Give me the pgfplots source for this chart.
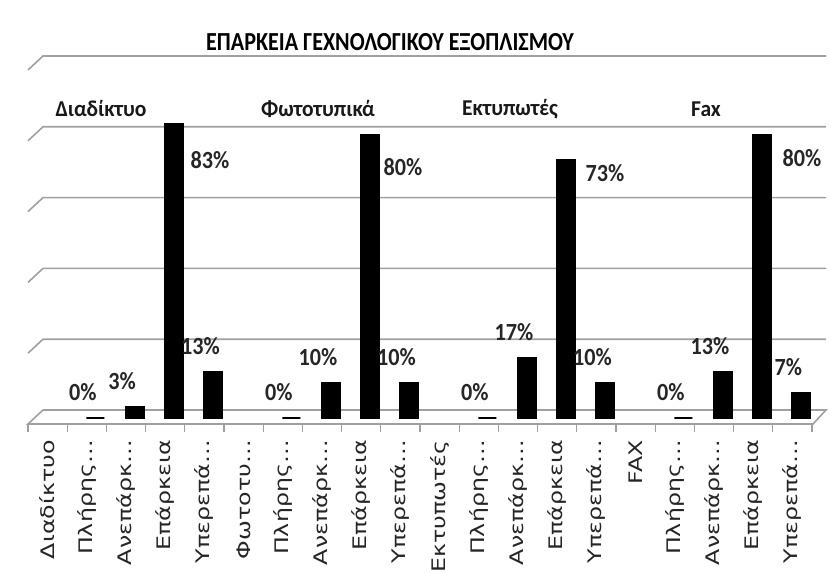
\documentclass[border=0pt]{standalone}
\usepackage{pgfplots}
\pgfplotsset{compat=1.18}
\usepackage{fontspec}
\setmainfont{Carlito}
\newfontfamily\ttlfont[FakeStretch=0.85]{Carlito}
\newfontfamily\hdfont[FakeStretch=0.95]{Carlito}
\newfontfamily\lblfont[FakeStretch=0.9]{Carlito}
\newfontfamily\tickfont[FakeStretch=1.27]{DejaVu Sans}
\definecolor{gridgray}{HTML}{A0A0A0}
\tikzset{lbl/.style={font=\lblfont\bfseries\fontsize{18.5}{21}\selectfont, text=black!85},
         hdr/.style={font=\hdfont\bfseries\fontsize{17}{19}\selectfont, text=black!90},
         grd/.style={gridgray, line width=1.2pt}}
\begin{document}
\begin{tikzpicture}
\begin{scope}[x=0.75pt,y=0.75pt]
\path[use as bounding box] (-28,-141) rectangle (803,424);
\node[font=\ttlfont\bfseries\fontsize{19.5}{22}\selectfont, inner sep=0pt] at (362,382) {ΕΠΑΡΚΕΙΑ ΓΕΧΝΟΛΟΓΙΚΟΥ ΕΞΟΠΛΙΣΜΟΥ};
\end{scope}
\begin{axis}[
  at={(0pt,0pt)}, anchor=south west, scale only axis,
  width=588pt, height=280.5pt,
  xmin=-0.5, xmax=19.5, ymin=-1.695, ymax=103.95,
  clip=false,
  axis line style={draw=none},
  ytick=\empty,
  xtick={0,...,19},
  xticklabels={Διαδίκτυο, Πλήρης…, Ανεπάρκ…, Επάρκεια, Υπερεπά…, Φωτοτυ…, Πλήρης…, Ανεπάρκ…, Επάρκεια, Υπερεπά…, Εκτυπωτές, Πλήρης…, Ανεπάρκ…, Επάρκεια, Υπερεπά…, FAX, Πλήρης…, Ανεπάρκ…, Επάρκεια, Υπερεπά…},
  minor xtick={-0.5,0.5,1.5,2.5,3.5,4.5,5.5,6.5,7.5,8.5,9.5,10.5,11.5,12.5,13.5,14.5,15.5,16.5,17.5,18.5,19.5},
  major tick length=0pt, minor tick length=6pt,
  tick align=outside, xtick pos=left,
  tick style={gridgray, line width=1pt},
  xticklabel style={font=\tickfont\fontsize{14}{15}\selectfont, rotate=90, anchor=east, inner sep=0pt, text=black!85},
  xticklabel shift=12pt,
]
\draw[grd] (axis cs:-0.5,-1.69) -- (axis cs:19.525,-1.69) -- (axis cs:19.857,2.26) -- (axis cs:-0.117,2.26) -- cycle;
\draw[grd] (axis cs:-0.5,18.31) -- (axis cs:-0.117,22.26) -- (axis cs:19.857,22.26);
\draw[grd] (axis cs:-0.5,38.31) -- (axis cs:-0.117,42.26) -- (axis cs:19.857,42.26);
\draw[grd] (axis cs:-0.5,58.31) -- (axis cs:-0.117,62.26) -- (axis cs:19.857,62.26);
\draw[grd] (axis cs:-0.5,78.31) -- (axis cs:-0.117,82.26) -- (axis cs:19.857,82.26);
\draw[grd] (axis cs:-0.5,98.31) -- (axis cs:-0.117,102.26) -- (axis cs:19.857,102.26);
% short bars with labels above
\addplot[ybar, bar width=13.5pt, bar shift=6.4pt, fill=black, draw=black, line width=1.5pt,
  nodes near coords={\pgfmathprintnumber[assume math mode=true]{\pgfplotspointmeta}\%},
  every node near coord/.append style={font=\lblfont\bfseries\fontsize{18.5}{21}\selectfont, anchor=center, yshift=19.5pt, xshift=-3pt, text=black!85}]
  coordinates {(1,0) (2,3) (4,13) (6,0) (7,10) (9,10) (11,0) (12,17) (14,10) (16,0) (17,13) (19,7)};
% tall bars
\addplot[ybar, bar width=13.5pt, bar shift=6.4pt, fill=black, draw=black, line width=1.5pt]
  coordinates {(3,83) (8,80) (13,73) (18,80)};
\node[lbl] at (axis cs:4.143,72.9) {83\%};
\node[lbl] at (axis cs:9.066,70.9) {80\%};
\node[lbl] at (axis cs:14.219,69.2) {73\%};
\node[lbl] at (axis cs:19.245,73.4) {80\%};
\node[hdr] at (axis cs:1.362,87.3) {Διαδίκτυο};
\node[hdr] at (axis cs:6.898,87.3) {Φωτοτυπικά};
\node[hdr] at (axis cs:11.796,87.3) {Εκτυπωτές};
\node[hdr] at (axis cs:16.796,87.3) {Fax};
\end{axis}
\end{tikzpicture}
\end{document}
